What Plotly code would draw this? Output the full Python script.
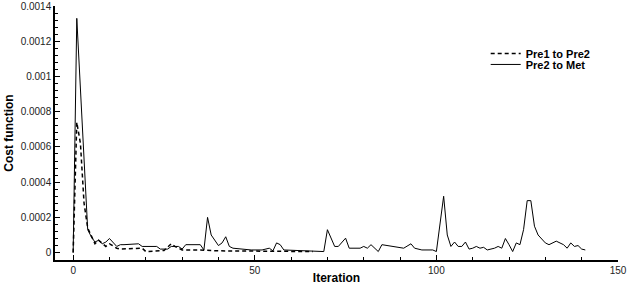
import plotly.graph_objects as go

# Pre2 to Met (solid)
met_iter = [0, 1, 4, 5, 6, 7, 8, 9, 10, 11, 12, 13, 14, 18, 19, 23, 24, 26, 27, 29, 30, 31, 35, 36,
            37, 38, 40, 41, 42, 43, 44, 49, 52, 54, 55, 56, 57, 58, 66, 69, 70, 72, 73, 75, 76, 79,
            80, 81, 82, 84, 85, 88, 91, 93, 94, 96, 99, 100, 102, 103, 104, 105, 106, 107, 108, 109,
            110, 111, 112, 113, 114, 116, 117, 118, 119, 120, 121, 122, 123, 124, 125, 126, 127, 128,
            130, 131, 133, 135, 136, 137, 138, 139, 140, 141]
met_cost = [0, 0.00133, 0.00013, 0.00009, 0.00006, 0.00007, 0.00005, 0.00006, 0.00008, 0.00006,
            0.000035, 0.000045, 0.000045, 0.00005, 0.000035, 0.000035, 0.00002, 0.00002, 0.000035,
            0.000035, 0.00002, 0.000045, 0.000045, 0.000015, 0.0002, 0.0001, 0.00004, 0.000055,
            0.00009, 0.000035, 0.000025, 0.000015, 0.000015, 0.000025, 0.00001, 0.000055, 0.000045,
            0.000015, 0.000006, 0.000006, 0.00013, 0.000035, 0.000035, 0.000082, 0.000025, 0.000025,
            0.000035, 0.000025, 0.000045, 0.000006, 0.000045, 0.000035, 0.000025, 0.00005, 0.000025,
            0.000015, 0.000015, 0.000006, 0.00032, 0.0001, 0.000035, 0.00006, 0.000035, 0.000035,
            0.00006, 0.00002, 0.000025, 0.000035, 0.000025, 0.00003, 0.000015, 0.000025, 0.000035,
            0.000025, 0.00008, 0.000045, 0.000006, 0.000055, 0.000045, 0.00013, 0.000295, 0.000295,
            0.00015, 0.0001, 0.000055, 0.000045, 0.000065, 0.000045, 0.000025, 0.000055, 0.000035,
            0.00004, 0.00002, 0.000015]

# Pre1 to Pre2 (dashed)
pre_iter = [0, 1, 2, 3, 4, 5, 6, 7, 8, 9, 10, 11, 12, 13, 17, 19, 20, 25, 27, 28, 30, 35, 40, 50, 66]
pre_cost = [0, 0.00074, 0.00062, 0.00028, 0.00014, 0.00009, 0.00005, 0.00007, 0.00005, 0.000035,
            0.00005, 0.000035, 0.000025, 0.00002, 0.000025, 0.000025, 0.000006, 0.000012, 0.00005,
            0.000035, 0.000015, 0.000015, 0.00001, 0.000008, 0.000006]

x_ticks = [0, 50, 100, 150]
y_ticks = [0, 0.0002, 0.0004, 0.0006, 0.0008, 0.001, 0.0012, 0.0014]
y_tick_text = ["0", "0.0002", "0.0004", "0.0006", "0.0008", "0.001", "0.0012", "0.0014"]

FONT = "Liberation Sans, Arial, sans-serif"
LEG_FONT = dict(family=FONT, size=11, color="black", weight="bold")

fig = go.Figure()
fig.add_trace(go.Scatter(x=pre_iter, y=pre_cost, mode="lines", name="Pre1 to Pre2",
                         line=dict(color="black", width=1.5, dash="4px,3px"), legend="legend"))
fig.add_trace(go.Scatter(x=met_iter, y=met_cost, mode="lines", name="Pre2 to Met",
                         line=dict(color="black", width=1), legend="legend2"))

fig.update_layout(
    width=628, height=285,
    margin=dict(l=55, r=10, t=6, b=25),
    paper_bgcolor="white", plot_bgcolor="white",
    font=dict(family=FONT, size=10, color="#222"),
    showlegend=True,
    legend=dict(x=0.765, y=0.87, xanchor="left", yanchor="top",
                bgcolor="rgba(0,0,0,0)", font=LEG_FONT, itemwidth=30),
    legend2=dict(x=0.765, y=0.827, xanchor="left", yanchor="top",
                 bgcolor="rgba(0,0,0,0)", font=LEG_FONT, itemwidth=30),
    xaxis=dict(range=[-5, 150], tickmode="array", tickvals=x_ticks, ticktext=[str(v) for v in x_ticks],
               showgrid=False, zeroline=False, showline=True, linecolor="black", linewidth=1.5,
               ticks="inside", ticklen=5, tickwidth=1.2, tickcolor="black",
               minor=dict(dtick=10, ticks="inside", ticklen=3, tickcolor="black", tickwidth=1),
               title=dict(text="Iteration", font=dict(family=FONT, size=12, color="black", weight="bold"),
                          standoff=4),
               automargin=False),
    yaxis=dict(range=[-0.000042, 0.0014], tickmode="array", tickvals=y_ticks, ticktext=y_tick_text,
               showgrid=False, zeroline=False, showline=True, linecolor="black", linewidth=1.5,
               ticks="inside", ticklen=5, tickwidth=1.2, tickcolor="black",
               minor=dict(dtick=0.00004, tick0=0, ticks="inside", ticklen=3, tickcolor="black", tickwidth=1),
               title=dict(text="Cost function", font=dict(family=FONT, size=12, color="black", weight="bold"),
                          standoff=4),
               automargin=False),
)

fig.write_html("out.html", config={"displayModeBar": False},
               post_script="document.body.style.margin='0';document.body.style.overflow='hidden';")
